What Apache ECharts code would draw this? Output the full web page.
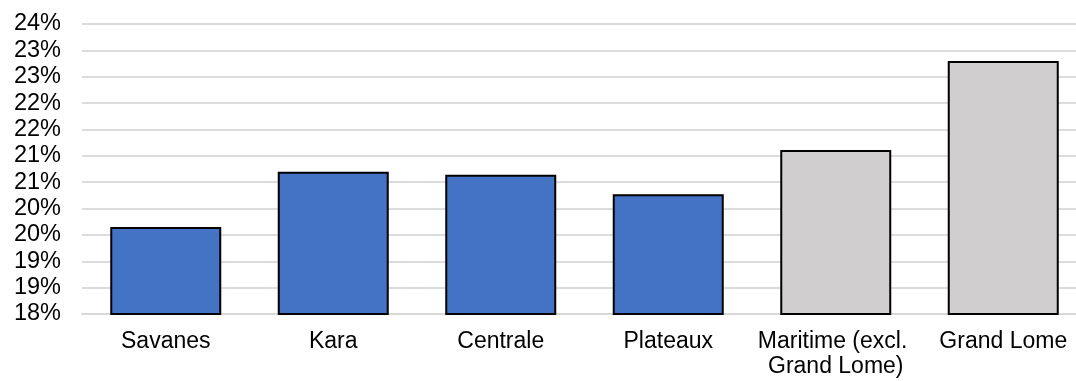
<!DOCTYPE html>
<html>
<head>
<meta charset="utf-8">
<style>
  html, body { margin: 0; padding: 0; background: #fff; }
  #chart { width: 1076px; height: 381px; }
</style>
<script src="https://cdn.jsdelivr.net/npm/echarts@6/dist/echarts.min.js"></script>
</head>
<body>
<div id="chart"></div>
<script>
const regions = ['Savanes', 'Kara', 'Centrale', 'Plateaux', 'Maritime (excl. Grand Lome)', 'Grand Lome'];
const shares = [19.65, 20.70, 20.64, 20.27, 21.11, 22.80];
const barColors = ['#4472c4', '#4472c4', '#4472c4', '#4472c4', '#d0cece', '#d0cece'];

(function () {
    var myChart = echarts.init(document.getElementById('chart'));
    var font = '"Liberation Sans", Arial, sans-serif';
    var option = {
        backgroundColor: '#fff',
        animation: false,
        grid: { left: 82, top: 24, width: 1005, bottom: 67, outerBoundsMode: 'none', containLabel: false },
        xAxis: {
            type: 'category',
            data: regions,
            axisLine: { lineStyle: { color: '#d9d9d9', width: 2 } },
            axisTick: { show: false },
            axisLabel: {
                color: '#000',
                fontSize: 23,
                fontFamily: font,
                margin: 15,
                lineHeight: 25,
                width: 160,
                overflow: 'break',
                interval: 0
            }
        },
        yAxis: {
            type: 'value',
            min: 18,
            max: 23.5,
            interval: 0.5,
            axisLine: { show: false },
            axisTick: { show: false },
            splitLine: { lineStyle: { color: '#dcdcdc', width: 2 } },
            axisLabel: {
                color: '#000',
                fontSize: 23.5,
                fontFamily: font,
                margin: 21,
                formatter: function (v) { return Math.round(v) + '%'; }
            }
        },
        series: [{
            type: 'bar',
            barWidth: 111,
            data: shares.map(function (v, i) {
                return { value: v, itemStyle: { color: barColors[i] } };
            }),
            itemStyle: { borderColor: '#000', borderWidth: 2 }
        }]
    };
    myChart.setOption(option);
    window.addEventListener('resize', function () {
        myChart.resize();
    });
})();
</script>
</body>
</html>
